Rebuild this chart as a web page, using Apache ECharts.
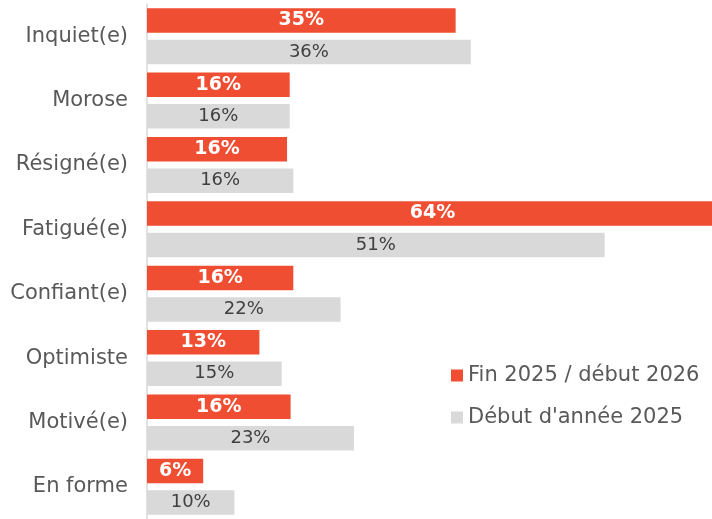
<!DOCTYPE html>
<html>
<head>
<meta charset="utf-8">
<script src="https://cdn.jsdelivr.net/npm/echarts@6/dist/echarts.min.js"></script>
<style>
  html, body { margin: 0; padding: 0; background: #ffffff; }
  #chart { width: 712px; height: 519px; }
</style>
</head>
<body>
<div id="chart"></div>
<script>
const categories = ["Inquiet(e)", "Morose", "Résigné(e)", "Fatigué(e)", "Confiant(e)", "Optimiste", "Motivé(e)", "En forme"];
const seriesNames = ["Fin 2025 / début 2026", "Début d'année 2025"];
const recentValues = [34.6, 16.0, 15.7, 64.0, 16.4, 12.6, 16.1, 6.3];
const earlierValues = [36.3, 16.0, 16.4, 51.3, 21.7, 15.1, 23.2, 9.8];

const FONT = "DejaVu Sans";
const chart = echarts.init(document.getElementById('chart'), null, { renderer: 'canvas' });
const fmt = p => Math.round(p.value) + '%';

chart.setOption({
  animation: false,
  backgroundColor: '#ffffff',
  grid: { left: 147, top: 4, bottom: 0, right: -59.4, containLabel: false, outerBoundsMode: 'none' },
  xAxis: {
    type: 'value', min: 0, max: 70, show: false,
    splitLine: { show: false }
  },
  yAxis: {
    type: 'category', data: categories, inverse: true,
    axisLine: { show: true, lineStyle: { color: '#d9d9d9', width: 1.5 } },
    axisTick: { show: false },
    axisLabel: { margin: 19, fontFamily: FONT, fontSize: 21, color: '#595959' }
  },
  legend: {
    orient: 'vertical', left: 451, top: 365, padding: 0,
    itemWidth: 12, itemHeight: 12, itemGap: 21,
    icon: 'rect',
    textStyle: { fontFamily: FONT, fontSize: 21, lineHeight: 20, color: '#595959' },
    data: seriesNames
  },
  series: [
    {
      name: seriesNames[0], type: 'bar', data: recentValues,
      barWidth: 24.5, barGap: '28.6%',
      itemStyle: { color: '#f04e33' },
      label: { show: true, position: 'inside', formatter: fmt,
        fontFamily: FONT, fontSize: 19, fontWeight: 'bold', color: '#ffffff' }
    },
    {
      name: seriesNames[1], type: 'bar', data: earlierValues,
      barWidth: 24.5, barGap: '28.6%',
      itemStyle: { color: '#d9d9d9' },
      label: { show: true, position: 'inside', formatter: fmt,
        fontFamily: FONT, fontSize: 18, color: '#404040' }
    }
  ]
});
</script>
</body>
</html>
